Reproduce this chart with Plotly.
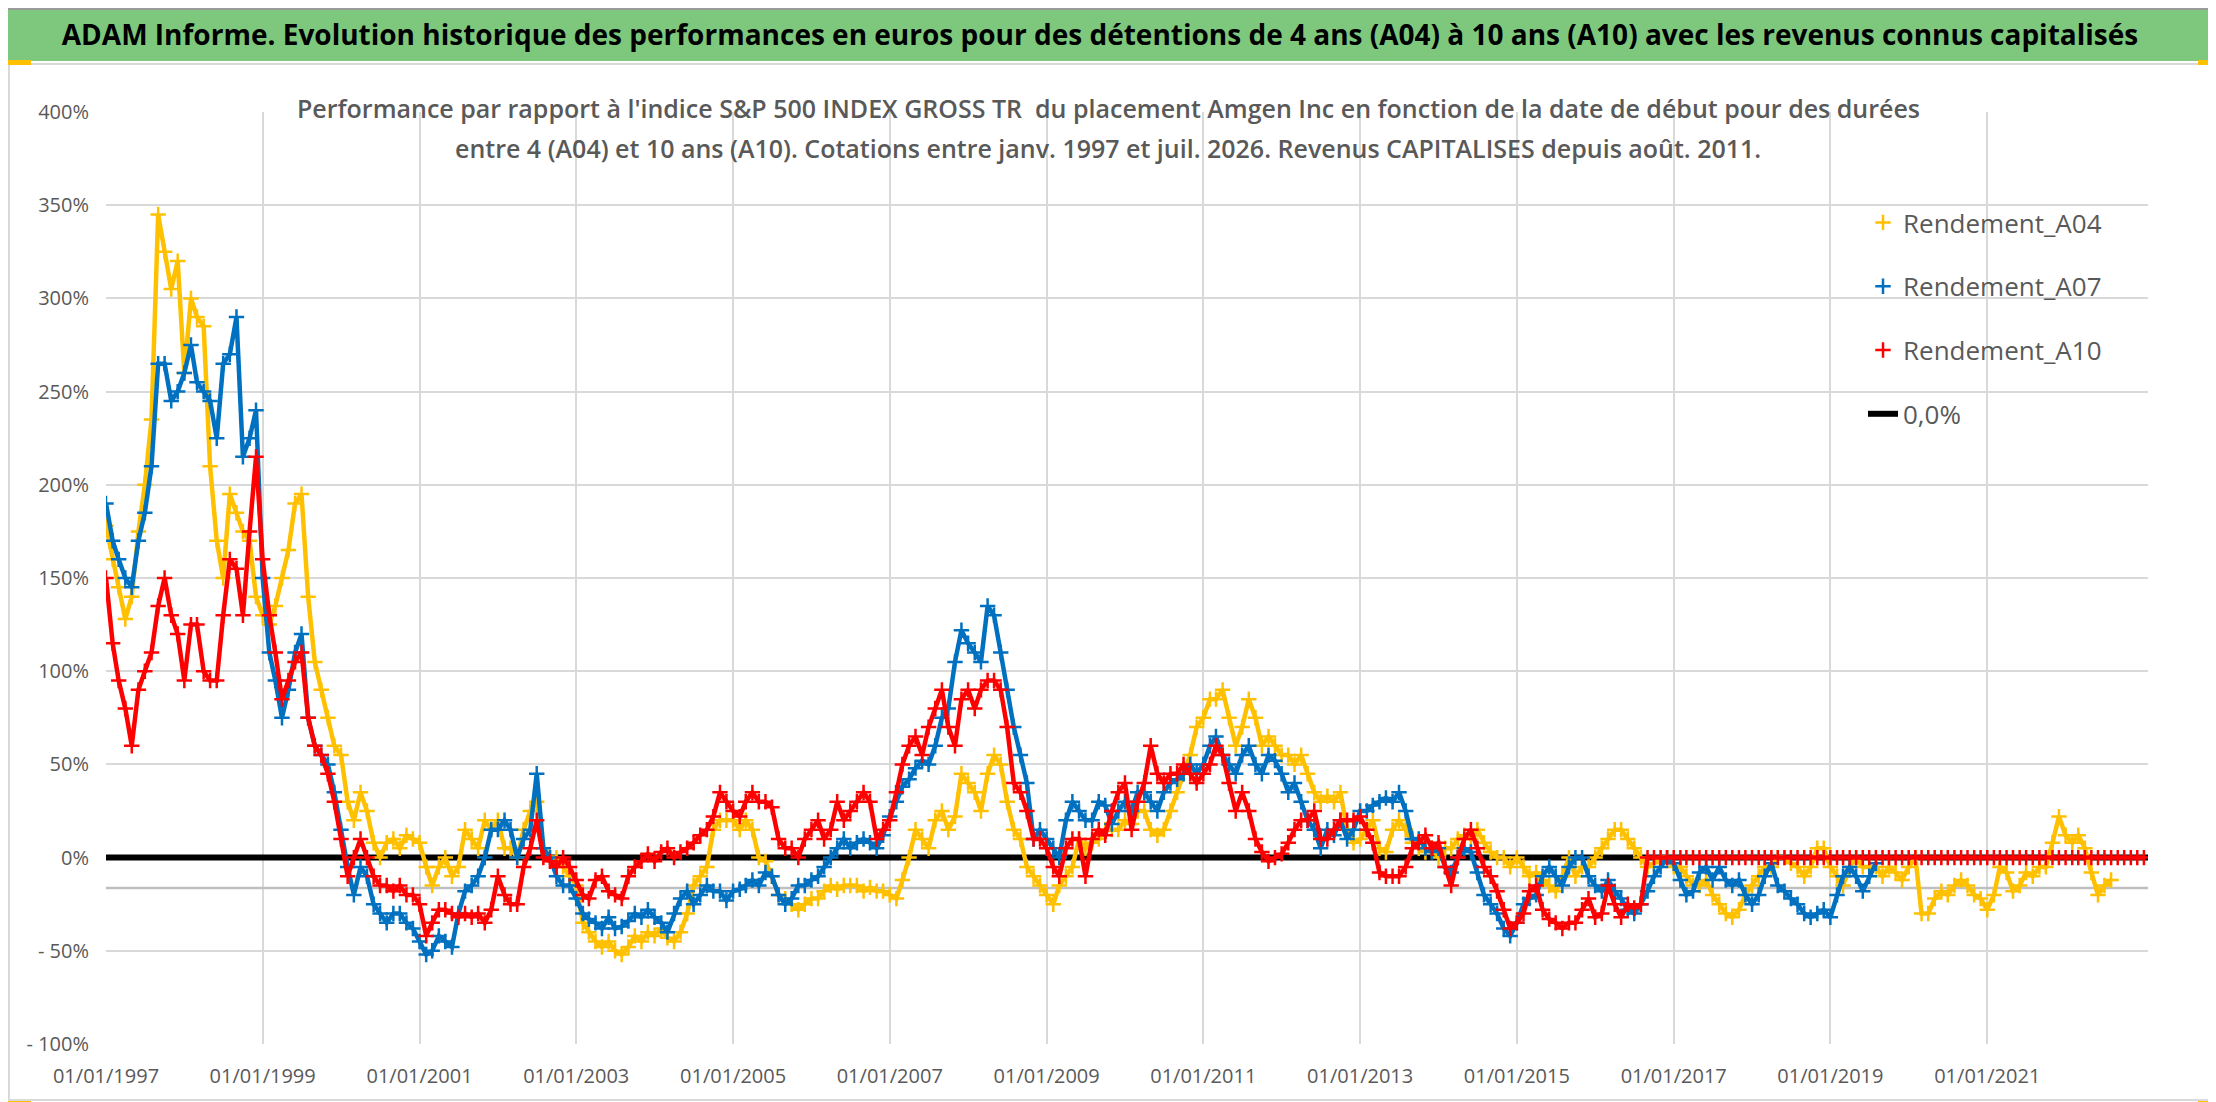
import pandas as pd
import plotly.graph_objects as go

# Values, one per month, in %
a04_start = "1997-01-01"
a04 = [178, 160, 145, 128, 140, 175, 200, 235, 345, 325, 305, 320,
       260, 300, 290, 285, 210, 170, 150, 195, 185, 175, 170, 140,
       130, 125, 135, 150, 165, 190, 195, 140, 105, 90, 75, 60,
       55, 30, 20, 35, 25, 8, 0, 8, 10, 5, 12, 10,
       8, -5, -15, -5, 0, -10, -5, 15, 10, 5, 20, 15,
       20, 5, 5, 0, 15, 25, 30, 5, 0, 0, -5, -10,
       -15, -35, -40, -45, -48, -45, -50, -52, -48, -42, -45, -40,
       -42, -38, -43, -45, -40, -30, -15, -10, -5, 15, 20, 20,
       20, 15, 20, 15, 0, -2, -10, -20, -22, -25, -28, -25,
       -22, -22, -18, -15, -17, -15, -15, -15, -18, -16, -18, -18,
       -20, -22, -12, 0, 15, 10, 5, 20, 25, 15, 22, 45,
       40, 35, 25, 45, 55, 50, 30, 15, 10, -5, -10, -15,
       -20, -25, -15, -10, -5, 10, 5, 8, 10, 15, 15, 15,
       20, 18, 25, 25, 15, 12, 15, 25, 35, 45, 55, 70,
       75, 85, 85, 90, 75, 60, 70, 85, 75, 60, 65, 60,
       55, 55, 50, 55, 45, 35, 30, 33, 30, 35, 15, 8,
       10, 15, 20, 5, 3, 15, 20, 15, 8, 5, 3, 5,
       0, 5, 5, 10, 12, 10, 15, 8, 3, 0, 0, -5,
       0, -5, -10, -8, -12, -15, -18, -10, 0, -10, -5, -5,
       0, 5, 10, 15, 15, 10, 5, 0, -5, -3, 0, 0,
       -5, -5, -10, -15, -15, -12, -20, -25, -30, -32, -28, -20,
       -15, -10, -5, -5, 0, 0, -3, -5, -10, -5, 5, 5,
       -5, -10, -15, -5, 0, -5, -5, -5, -10, -5, -8, -12,
       -5, 0, -30, -30, -22, -18, -20, -15, -12, -15, -20, -22,
       -28, -20, -5, -8, -18, -15, -8, -10, -5, -5, 8, 22,
       12, 8, 12, 5, -8, -20, -15, -12]

a07_start = "1997-01-01"
a07 = [190, 170, 160, 150, 145, 170, 185, 210, 265, 265, 245, 250,
       260, 275, 255, 250, 245, 225, 265, 270, 290, 215, 225, 240,
       150, 110, 95, 75, 90, 110, 120, 75, 60, 55, 50, 35,
       15, -5, -20, -5, -10, -25, -30, -35, -30, -30, -35, -38,
       -45, -52, -50, -42, -45, -48, -30, -18, -15, -10, 0, 15,
       15, 20, 15, 0, 10, 15, 45, 5, 0, -10, -15, -15,
       -22, -30, -33, -35, -38, -32, -38, -37, -34, -30, -32, -28,
       -32, -35, -40, -30, -22, -18, -25, -20, -15, -18, -18, -23,
       -18, -17, -15, -12, -15, -8, -10, -20, -25, -22, -15, -15,
       -12, -10, -5, 0, 5, 10, 5, 8, 10, 8, 5, 12,
       22, 30, 38, 42, 48, 52, 50, 60, 75, 80, 105, 122,
       115, 110, 105, 135, 130, 110, 90, 70, 55, 40, 10, 15,
       10, 5, 0, 20, 30, 25, 20, 20, 30, 28, 18, 25,
       30, 25, 35, 35, 30, 25, 35, 40, 42, 45, 50, 45,
       50, 60, 65, 55, 50, 45, 55, 60, 50, 45, 55, 52,
       45, 35, 40, 30, 20, 15, 5, 15, 12, 20, 10, 15,
       25, 25, 28, 30, 32, 30, 35, 25, 10, 10, 5, 3,
       5, -5, -8, 0, 5, 3, -8, -20, -25, -30, -38, -42,
       -35, -25, -22, -20, -10, -5, -10, -15, -5, 0, 0, -10,
       -15, -18, -12, -18, -22, -28, -30, -25, -18, -10, -5, 0,
       -3, -12, -20, -18, -8, -5, -12, -5, -12, -15, -12, -20,
       -25, -20, -10, -3, -15, -18, -22, -25, -30, -32, -30, -28,
       -32, -20, -10, -5, -10, -18, -10, -3]

a10_start = "1997-01-01"
a10 = [150, 115, 95, 80, 60, 90, 100, 110, 135, 150, 130, 120,
       95, 125, 125, 100, 95, 95, 130, 160, 155, 130, 175, 215,
       160, 130, 110, 85, 95, 105, 110, 75, 60, 55, 45, 30,
       10, -10, 0, 10, 0, -10, -15, -15, -18, -15, -20, -20,
       -25, -42, -35, -28, -28, -30, -32, -30, -32, -30, -35, -28,
       -10, -20, -25, -25, -5, 5, 20, 0, -2, -5, 0, -5,
       -12, -20, -22, -12, -10, -18, -20, -22, -10, -5, -2, 2,
       -2, 3, 5, 0, 3, 5, 8, 12, 15, 22, 35, 30,
       25, 22, 30, 35, 30, 30, 27, 10, 5, 5, 0, 10,
       15, 20, 10, 15, 30, 20, 25, 30, 35, 30, 10, 15,
       20, 35, 50, 60, 65, 55, 70, 80, 90, 70, 60, 85,
       90, 80, 90, 95, 95, 90, 70, 40, 35, 25, 10, 10,
       5, -5, -10, 5, 10, 10, -10, 10, 15, 12, 25, 35,
       40, 15, 30, 40, 60, 45, 40, 45, 45, 50, 45, 40,
       45, 50, 60, 55, 40, 25, 35, 25, 10, 3, -2, 0,
       2, 8, 15, 20, 20, 25, 10, 10, 15, 20, 20, 20,
       22, 15, 8, -8, -10, -10, -10, -5, 5, 8, 12, 5,
       8, -5, -15, 0, 10, 15, 5, -5, -10, -18, -28, -38,
       -35, -30, -18, -15, -28, -33, -35, -38, -35, -35, -28, -22,
       -32, -30, -15, -25, -32, -25, -27, -25, 0, 0, 0, 0,
       0, 0, 0, 0, 0, 0, 0, 0, 0, 0, 0, 0,
       0, 0, 0, 0, 0, 0, 0, 0, 0, 0, 0, 0,
       0, 0, 0, 0, 0, 0, 0, 0, 0, 0, 0, 0,
       0, 0, 0, 0, 0, 0, 0, 0, 0, 0, 0, 0,
       0, 0, 0, 0, 0, 0, 0, 0, 0, 0, 0, 0,
       0, 0, 0, 0, 0, 0, 0, 0, 0, 0, 0, 0,
       0]

ref_dates = ["1997-01-01", "2023-01-20"]
zero_line = [0, 0]
grey_line = [-16.3, -16.3]

x_ticks = ["1997-01-01", "1999-01-01", "2001-01-01", "2003-01-01", "2005-01-01",
           "2007-01-01", "2009-01-01", "2011-01-01", "2013-01-01", "2015-01-01",
           "2017-01-01", "2019-01-01", "2021-01-01"]
y_ticks = [-100, -50, 0, 50, 100, 150, 200, 250, 300, 350, 400]
y_labels = ["- 100%", "- 50%", "0%", "50%", "100%", "150%", "200%",
            "250%", "300%", "350%", "400%"]

W, H = 2216, 1102
L, R, T, B = 98, 2140, 104, 1036


def px(x):
    return (x - L) / (R - L)


def py(y):
    return (B - y) / (B - T)


def months(start, n):
    return pd.date_range(start, periods=n, freq="MS")


series = [("Rendement_A04", a04_start, a04, "#FFC000"),
          ("Rendement_A07", a07_start, a07, "#0070C0"),
          ("Rendement_A10", a10_start, a10, "#FF0000")]

fig = go.Figure()

fig.add_trace(go.Scatter(x=ref_dates, y=grey_line, mode="lines",
                         line=dict(color="#BFBFBF", width=2.5),
                         showlegend=False, hoverinfo="skip"))
fig.add_trace(go.Scatter(x=ref_dates, y=zero_line, mode="lines", name="0,0%",
                         line=dict(color="black", width=6),
                         legendgroup="d", legendrank=4))

for i, (name, start, vals, color) in enumerate(series):
    dates = months(start, len(vals))
    fig.add_trace(go.Scatter(x=dates, y=vals, mode="lines",
                             line=dict(color=color, width=4.5),
                             showlegend=False, hoverinfo="skip"))
    fig.add_trace(go.Scatter(x=dates, y=vals, mode="markers", name=name,
                             marker=dict(symbol="cross-thin", size=11, color=color,
                                         line=dict(color=color, width=2.5)),
                             legendgroup="abc"[i], legendrank=i + 1))

shapes = [
    dict(type="rect", xref="paper", yref="paper", x0=px(0), x1=px(W), y0=py(53), y1=py(0),
         fillcolor="#7EC87E", line_width=0, layer="below"),
    dict(type="rect", xref="paper", yref="paper", x0=px(0), x1=px(W), y0=py(2), y1=py(0),
         fillcolor="#9A9A9A", line_width=0, layer="below"),
    dict(type="rect", xref="paper", yref="paper", x0=px(1), x1=px(2207), y0=py(1092), y1=py(56),
         line=dict(color="#D9D9D9", width=2), layer="below"),
    dict(type="rect", xref="paper", yref="paper", x0=px(292), x1=px(1911), y0=py(169), y1=py(95),
         fillcolor="white", line_width=0, layer="between"),
    dict(type="rect", xref="paper", yref="paper", x0=px(1808), x1=px(2150), y0=py(450), y1=py(190),
         fillcolor="white", line_width=0, layer="between"),
    # excel selection handles
    dict(type="rect", xref="paper", yref="paper", x0=px(0), x1=px(23), y0=py(57), y1=py(52),
         fillcolor="#FFC000", line_width=0),
    dict(type="rect", xref="paper", yref="paper", x0=px(0), x1=px(23), y0=py(1099), y1=py(1093),
         fillcolor="#FFC000", line_width=0),
    dict(type="rect", xref="paper", yref="paper", x0=px(2190), x1=px(2216), y0=py(57), y1=py(52),
         fillcolor="#FFC000", line_width=0),
    dict(type="rect", xref="paper", yref="paper", x0=px(2209), x1=px(2216), y0=py(72), y1=py(52),
         fillcolor="#FFC000", line_width=0),
    dict(type="rect", xref="paper", yref="paper", x0=px(2209), x1=px(2216), y0=py(1099), y1=py(1036),
         fillcolor="#FFC000", line_width=0),
    dict(type="rect", xref="paper", yref="paper", x0=px(2190), x1=px(2216), y0=py(1099), y1=py(1093),
         fillcolor="#FFC000", line_width=0),
]

sub_font = dict(family="Open Sans", size=25, color="#595959", weight=600)
annotations = [
    dict(text="Performance par rapport à l'indice S&P 500 INDEX GROSS TR  du placement Amgen Inc "
              "en fonction de la date de début pour des durées",
         x=px(1100), y=py(100), xref="paper", yref="paper", showarrow=False,
         xanchor="center", yanchor="middle", font=sub_font),
    dict(text="entre 4 (A04) et 10 ans (A10). Cotations entre janv. 1997 et juil. 2026. "
              "Revenus CAPITALISES depuis août. 2011.",
         x=px(1100), y=py(140), xref="paper", yref="paper", showarrow=False,
         xanchor="center", yanchor="middle", font=sub_font),
]

fig.update_layout(
    width=W, height=H,
    margin=dict(l=L, r=W - R, t=T, b=H - B),
    paper_bgcolor="white", plot_bgcolor="white",
    title=dict(text="ADAM Informe. Evolution historique des performances en euros pour des détentions "
                    "de 4 ans (A04) à 10 ans (A10) avec les revenus connus capitalisés",
               x=1092 / W, xanchor="center", xref="container",
               y=1 - 27 / H, yanchor="middle", yref="container",
               font=dict(family="Open Sans", size=28, color="black", weight=700)),
    showlegend=True,
    legend=dict(x=px(1855), xanchor="left", y=py(191), yanchor="top",
                traceorder="grouped", tracegroupgap=27, bgcolor="rgba(0,0,0,0)",
                font=dict(family="Open Sans", size=26, color="#595959")),
    shapes=shapes,
    annotations=annotations,
)

fig.update_xaxes(type="date", range=ref_dates, tickvals=x_ticks,
                 tickformat="%d/%m/%Y", showgrid=True, gridcolor="#D9D9D9", gridwidth=2,
                 ticks="", ticklabelstandoff=18, zeroline=False, showline=False,
                 tickfont=dict(family="Open Sans", size=20, color="#595959"))
fig.update_yaxes(range=[-100, 400], tickvals=y_ticks, ticktext=y_labels,
                 showgrid=True, gridcolor="#D9D9D9", gridwidth=2, zeroline=False,
                 ticks="", ticklabelstandoff=16, showline=False,
                 tickfont=dict(family="Open Sans", size=20, color="#595959"))

fig.write_html("out.html")
